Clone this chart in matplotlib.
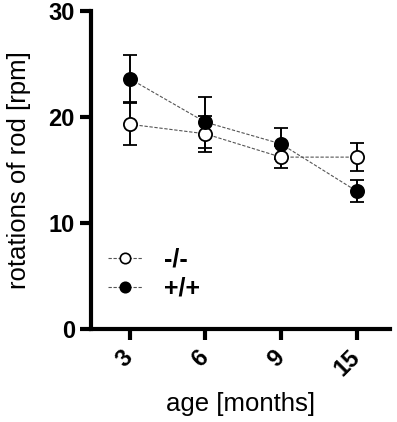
import numpy as np
import matplotlib
matplotlib.use("Agg")
import matplotlib.pyplot as plt

plt.rcParams['font.family'] = ['Liberation Sans', 'DejaVu Sans']

# data
ages = ["3", "6", "9", "15"]
ko_mean = [19.3, 18.4, 16.2, 16.2]   # -/-
ko_sem = [2.0, 1.7, 1.05, 1.3]
wt_mean = [23.6, 19.5, 17.45, 13.0]  # +/+
wt_sem = [2.25, 2.4, 1.45, 1.0]

x = np.arange(len(ages))

fig = plt.figure(figsize=(3.97, 4.22), dpi=100)
ax = fig.add_axes([0.229, 0.2204, 0.753, 0.7542])

style = dict(color='black', markersize=9.5, markeredgewidth=1.3,
             elinewidth=1.4, capsize=5, capthick=1.4)
ax.errorbar(x, ko_mean, yerr=ko_sem, fmt='o', mfc='white', zorder=3, **style)
ax.errorbar(x, wt_mean, yerr=wt_sem, fmt='o', mfc='black', zorder=3, **style)
ax.plot(x, ko_mean, ls=(0, (3, 1.5)), lw=0.8, color='#555555', zorder=2)
ax.plot(x, wt_mean, ls=(0, (3, 1.5)), lw=0.8, color='#555555', zorder=2)

# legend handles (line + marker)
h1, = ax.plot([], [], ls=(0, (3, 1.5)), lw=0.8, color='#555555', marker='o',
              mfc='white', mec='black', markersize=7.5, markeredgewidth=1.2)
h2, = ax.plot([], [], ls=(0, (3, 1.5)), lw=0.8, color='#555555', marker='o',
              mfc='black', mec='black', markersize=7.5, markeredgewidth=1.2)
leg = ax.legend([h1, h2], ["-/-", "+/+"], loc='upper left',
                bbox_to_anchor=(0.057, 0.255), frameon=False,
                prop={'size': 18, 'weight': 'bold'}, borderpad=0,
                borderaxespad=0, handlelength=1.4, handletextpad=0.85,
                labelspacing=0.2)

ax.set_xlim(-0.511, 3.44)
ax.set_ylim(0, 30)
ax.set_yticks([0, 10, 20, 30])
ax.set_xticks(x)
ax.set_xticklabels(ages)

for sp in ['top', 'right']:
    ax.spines[sp].set_visible(False)
for sp in ['left', 'bottom']:
    ax.spines[sp].set_linewidth(3)

ax.tick_params(axis='both', width=3, length=8, labelsize=17)
ax.tick_params(axis='x', pad=10)
for lab in ax.get_yticklabels():
    lab.set_fontweight('bold')
for lab in ax.get_xticklabels():
    lab.set_fontweight('bold')
    lab.set_rotation(45)
    lab.set_ha('right')
    lab.set_va('center')
    lab.set_rotation_mode('anchor')

ax.set_xlabel("age [months]", fontsize=18.5, labelpad=8)
ax.set_ylabel("rotations of rod [rpm]", fontsize=18.5, labelpad=13)

fig.savefig("out.png", dpi=100)
